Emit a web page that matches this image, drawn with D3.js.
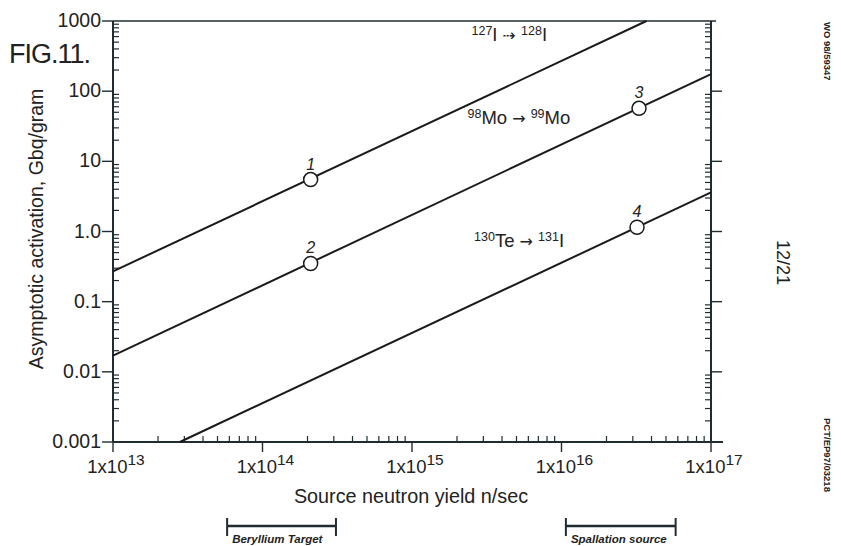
<!DOCTYPE html>
<html>
<head>
<meta charset="utf-8">
<script src="https://cdn.jsdelivr.net/npm/d3@7"></script>
<style>
  body { margin: 0; background: #fff; }
  text { font-family: "Liberation Sans", Arial, sans-serif; fill: #222; }
</style>
</head>
<body>
<div id="chart"></div>
<script>
// ---- data ----
var yieldDomain = [1e13, 1e17];
var activationDomain = [0.001, 1000];
var xTickExps = [13, 14, 15, 16, 17];
var yTickValues = [0.001, 0.01, 0.1, 1, 10, 100, 1000];
var yTickLabels = ["0.001", "0.01", "0.1", "1.0", "10", "100", "1000"];

// each line is straight in log-log: two end points [yield, activation]
var lineI127 = [[1e13, 0.27], [3.7e16, 1000]];
var lineMo98 = [[1e13, 0.017], [1e17, 175]];
var lineTe130 = [[2.8e13, 0.001], [1e17, 3.6]];

var markedPoints = [
  {n: "1", x: 2.1e14, y: 5.5},
  {n: "2", x: 2.1e14, y: 0.35},
  {n: "3", x: 3.3e16, y: 57},
  {n: "4", x: 3.2e16, y: 1.15}
];

// reaction labels: [yield, activation] of label start, parts [text, kind]
// kind: 1 = superscript, 2 = arrow, 0 = normal
var reactionLabels = [
  {at: [2.5e15, 520], parts: [["127", 1], ["I", 0], [" \u21E2 ", 2], ["128", 1], ["I", 0]]},
  {at: [2.35e15, 34], parts: [["98", 1], ["Mo", 0], [" \u2192 ", 2], ["99", 1], ["Mo", 0]]},
  {at: [2.6e15, 0.6], parts: [["130", 1], ["Te", 0], [" \u2192 ", 2], ["131", 1], ["I", 0]]}
];

var sourceRanges = [
  {name: "Beryllium Target", from: 5.8e13, to: 3.1e14},
  {name: "Spallation source", from: 1.07e16, to: 5.8e16}
];

var width = 841, height = 546;
var ink = "#1f2c31";

var svg = d3.select("#chart").append("svg")
    .attr("width", width)
    .attr("height", height);

var x = d3.scaleLog().domain(yieldDomain).range([113, 711]);
var y = d3.scaleLog().domain(activationDomain).range([442, 21]);

var minorX = [], minorY = [];
for (var e = 13; e < 17; e++)
  for (var m = 2; m <= 9; m++) minorX.push(m * Math.pow(10, e));
for (var e = -3; e < 3; e++)
  for (var m = 2; m <= 9; m++) minorY.push(m * Math.pow(10, e));

var axes = svg.append("g").attr("stroke", ink).attr("fill", "none");

// frame: left, bottom, right, top
axes.append("line").attr("x1", x(1e13)).attr("x2", x(1e13)).attr("y1", y(1000)).attr("y2", y(0.001)).attr("stroke-width", 2);
axes.append("line").attr("x1", x(1e13)).attr("x2", x(1e17) + 12).attr("y1", y(0.001)).attr("y2", y(0.001)).attr("stroke-width", 2);
axes.append("line").attr("x1", x(1e17)).attr("x2", x(1e17)).attr("y1", y(1000)).attr("y2", y(0.001)).attr("stroke-width", 2);
axes.append("line").attr("x1", x(1e13)).attr("x2", x(1e17) + 5).attr("y1", y(1000)).attr("y2", y(1000)).attr("stroke-width", 1.6);

// left axis ticks
axes.selectAll(".ly").data(yTickValues).join("line")
  .attr("x1", x(1e13) - 11).attr("x2", x(1e13))
  .attr("y1", d => y(d)).attr("y2", d => y(d)).attr("stroke-width", 1.4);
axes.selectAll(".lm").data(minorY).join("line")
  .attr("x1", x(1e13)).attr("x2", x(1e13) + 6)
  .attr("y1", d => y(d)).attr("y2", d => y(d)).attr("stroke-width", 1.2);

// right axis ticks
axes.selectAll(".ry").data(yTickValues.slice(1, 6)).join("line")
  .attr("x1", x(1e17)).attr("x2", x(1e17) + 11)
  .attr("y1", d => y(d)).attr("y2", d => y(d)).attr("stroke-width", 1.4);
axes.selectAll(".rm").data(minorY).join("line")
  .attr("x1", x(1e17) - 6).attr("x2", x(1e17))
  .attr("y1", d => y(d)).attr("y2", d => y(d)).attr("stroke-width", 1.2);

// bottom axis ticks
axes.selectAll(".bx").data(xTickExps).join("line")
  .attr("x1", d => x(Math.pow(10, d))).attr("x2", d => x(Math.pow(10, d)))
  .attr("y1", y(0.001)).attr("y2", y(0.001) + 10).attr("stroke-width", 1.4);
axes.selectAll(".bm").data(minorX).join("line")
  .attr("x1", d => x(d)).attr("x2", d => x(d))
  .attr("y1", y(0.001) - 6).attr("y2", y(0.001)).attr("stroke-width", 1.2);

// tick labels
svg.append("g").selectAll("text").data(yTickValues).join("text")
  .attr("x", 101).attr("y", d => y(d) + 6)
  .attr("text-anchor", "end").attr("font-size", 19.5)
  .text((d, i) => yTickLabels[i]);

var xl = svg.append("g").selectAll("text").data(xTickExps).join("text")
  .attr("x", d => x(Math.pow(10, d)) + 3).attr("y", 473)
  .attr("text-anchor", "middle").attr("font-size", 18.5);
xl.append("tspan").text("1x10");
xl.append("tspan").attr("dy", -8).attr("font-size", 15.5).text(d => d);

// axis titles
svg.append("text")
  .attr("transform", "translate(43,229) rotate(-90)")
  .attr("text-anchor", "middle").attr("font-size", 19.5)
  .text("Asymptotic activation, Gbq/gram");
svg.append("text")
  .attr("x", 411).attr("y", 503)
  .attr("text-anchor", "middle").attr("font-size", 19.8)
  .text("Source neutron yield n/sec");

svg.append("text")
  .attr("x", 9).attr("y", 63)
  .attr("font-size", 27).attr("letter-spacing", -1)
  .text("FIG.11.");

// reaction lines
var line = d3.line().x(d => x(d[0])).y(d => y(d[1]));
svg.append("g").attr("fill", "none").attr("stroke", "#1a1a1a").attr("stroke-width", 2)
  .selectAll("path").data([lineI127, lineMo98, lineTe130]).join("path")
  .attr("d", line);

// numbered points
var pts = svg.append("g").selectAll("g").data(markedPoints).join("g")
  .attr("transform", d => "translate(" + x(d.x) + "," + y(d.y) + ")");
pts.append("circle").attr("r", 7).attr("fill", "#fff").attr("stroke", "#1a1a1a").attr("stroke-width", 1.5);
pts.append("text").attr("y", -10).attr("text-anchor", "middle")
  .attr("font-size", 16).attr("font-style", "italic").text(d => d.n);

// reaction labels with superscripts
reactionLabels.forEach(function(lab) {
  var t = svg.append("text")
    .attr("x", x(lab.at[0])).attr("y", y(lab.at[1]))
    .attr("font-size", 18.5);
  var shifted = false;
  lab.parts.forEach(function(p) {
    var s = t.append("tspan").text(p[0]);
    if (p[1] === 1) {
      s.attr("font-size", 12.5);
      if (!shifted) { s.attr("dy", -6); shifted = true; }
    } else {
      if (shifted) { s.attr("dy", 6); shifted = false; }
      if (p[1] === 2) s.attr("font-family", "DejaVu Sans").attr("font-size", 16);
    }
  });
});

// source ranges under the x axis
var rg = svg.append("g").selectAll("g").data(sourceRanges).join("g");
rg.append("line").attr("x1", d => x(d.from)).attr("x2", d => x(d.to))
  .attr("y1", 526).attr("y2", 526).attr("stroke", ink).attr("stroke-width", 2.5);
rg.append("line").attr("x1", d => x(d.from)).attr("x2", d => x(d.from))
  .attr("y1", 518).attr("y2", 536).attr("stroke", ink).attr("stroke-width", 2);
rg.append("line").attr("x1", d => x(d.to)).attr("x2", d => x(d.to))
  .attr("y1", 518).attr("y2", 536).attr("stroke", ink).attr("stroke-width", 2);
rg.append("text").attr("x", d => x(d.from) + 5).attr("y", 543)
  .attr("font-size", 11.5)
  .attr("font-style", "italic").attr("font-weight", "bold")
  .text(d => d.name);

// page marks on the right margin
svg.append("text").attr("transform", "translate(824,22) rotate(90)")
  .attr("font-size", 9.5).attr("font-weight", "bold").text("WO 98/59347");
svg.append("text").attr("transform", "translate(777,240) rotate(90)")
  .attr("font-size", 18).text("12/21");
svg.append("text").attr("transform", "translate(824,418) rotate(90)")
  .attr("font-size", 9.5).attr("font-weight", "bold").text("PCT/EP97/03218");
</script>
</body>
</html>
